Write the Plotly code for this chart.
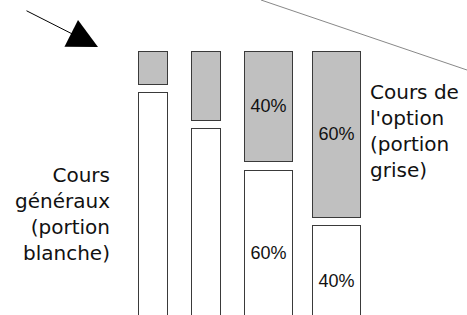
import plotly.graph_objects as go

# ---- data ----
options = ["Option 1", "Option 2", "Option 3", "Option 4"]
white_pct = [88, 75, 60, 40]      # cours généraux (portion blanche)
grey_pct = [12, 25, 40, 60]       # cours de l'option (portion grise)
white_labels = ["", "", "60%", "40%"]
grey_labels = ["", "", "40%", "60%"]

# ---- layout / style constants ----
W, H = 467, 315
GAP = 3
bar_widths = [0.473, 0.473, 0.79, 0.783]
bar_offsets = [-0.235, -0.370, -0.506, -0.392]
LINE = dict(color="#3a3a3a", width=1)
LABEL_FONT = dict(family="Liberation Sans", size=18, color="#111111")
TEXT_FONT = dict(family="DejaVu Sans", size=20, color="#111111")

fig = go.Figure()
fig.add_trace(go.Bar(
    x=options, y=white_pct, width=bar_widths, offset=bar_offsets,
    marker=dict(color="white", line=LINE),
    text=white_labels, textposition="inside", insidetextanchor="middle",
    textangle=0, textfont=LABEL_FONT, hoverinfo="skip", showlegend=False,
))
fig.add_trace(go.Bar(
    x=options, y=[GAP] * len(options), width=bar_widths, offset=bar_offsets,
    marker=dict(color="rgba(0,0,0,0)", line=dict(width=0)),
    hoverinfo="skip", showlegend=False,
))
fig.add_trace(go.Bar(
    x=options, y=grey_pct, width=bar_widths, offset=bar_offsets,
    marker=dict(color="#c0c0c0", line=LINE),
    text=grey_labels, textposition="inside", insidetextanchor="middle",
    textangle=0, textfont=LABEL_FONT, hoverinfo="skip", showlegend=False,
))

k = 2.77  # px per percent
top_val = 100 + GAP
yr = [top_val - (H - 51) / k, top_val + 51 / k]
xr = [-152.7 / 61.3, (W - 152.7) / 61.3]

fig.update_layout(
    width=W, height=H,
    margin=dict(l=0, r=0, t=0, b=0),
    paper_bgcolor="white", plot_bgcolor="white",
    barmode="stack",
    hovermode=False,
    xaxis=dict(visible=False, range=xr, fixedrange=True),
    yaxis=dict(visible=False, range=yr, fixedrange=True),
    annotations=[
        dict(xref="paper", yref="paper", x=112 / W, y=1 - 214 / H,
             xanchor="right", yanchor="middle", align="right",
             text="Cours<br>généraux<br>(portion<br>blanche)",
             showarrow=False, font=TEXT_FONT),
        dict(xref="paper", yref="paper", x=368 / W, y=1 - 131 / H,
             xanchor="left", yanchor="middle", align="left",
             text="Cours de<br>l'option<br>(portion<br>grise)",
             showarrow=False, font=TEXT_FONT),
        dict(xref="paper", yref="paper", x=98 / W, y=1 - 47 / H,
             ax=-73, ay=-37, text="", showarrow=True,
             arrowhead=2, arrowsize=6, arrowwidth=1, arrowcolor="black",
             standoff=0),
    ],
    shapes=[
        dict(type="line", xref="paper", yref="paper",
             x0=261 / W, y0=1.0, x1=1.0, y1=1 - 70 / H,
             line=dict(color="#888888", width=1)),
    ],
)

fig.write_html(
    "out.html",
    config={"displayModeBar": False, "staticPlot": True},
    post_script="document.body.style.margin='0';document.body.style.overflow='hidden';",
)
